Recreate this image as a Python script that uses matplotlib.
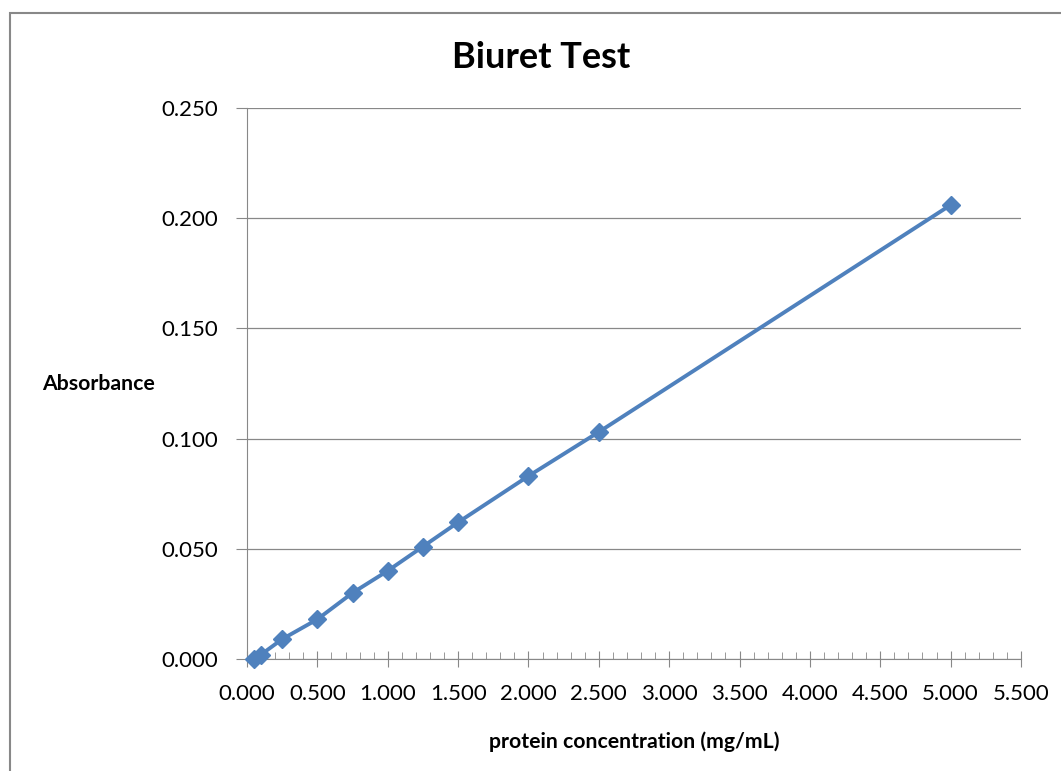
import matplotlib.pyplot as plt
from matplotlib.patches import Rectangle
from matplotlib.ticker import MultipleLocator, FormatStrFormatter

# datos
conc = [0.05, 0.1, 0.25, 0.5, 0.75, 1.0, 1.25, 1.5, 2.0, 2.5, 5.0]
absorb = [0.000, 0.002, 0.009, 0.018, 0.030, 0.040, 0.051, 0.062, 0.083, 0.103, 0.206]

plt.rcParams['font.family'] = ['Lato', 'DejaVu Sans']

fig = plt.figure(figsize=(10.61, 7.71), dpi=100)
ax = fig.add_axes([0.2328, 0.1453, 0.7295, 0.7146])

# marco del grafico
fig.patches.append(Rectangle((10 / 1061, -0.05), 1.2, 1 - 13 / 771 + 0.05,
                             transform=fig.transFigure, fill=False,
                             edgecolor='#888888', linewidth=1.5))

ax.plot(conc, absorb, color='#4F81BD', linewidth=2.8, marker='D',
        markersize=9.5, zorder=3, clip_on=False)

ax.set_xlim(0, 5.5)
ax.set_ylim(0, 0.25)
ax.xaxis.set_major_locator(MultipleLocator(0.5))
ax.xaxis.set_minor_locator(MultipleLocator(0.1))
ax.yaxis.set_major_locator(MultipleLocator(0.05))
ax.xaxis.set_major_formatter(FormatStrFormatter('%.3f'))
ax.yaxis.set_major_formatter(FormatStrFormatter('%.3f'))

ax.grid(axis='y', color='#888888', linewidth=0.9)
ax.set_axisbelow(True)
for s in ['top', 'right']:
    ax.spines[s].set_visible(False)
for s in ['left', 'bottom']:
    ax.spines[s].set_color('#888888')

ax.tick_params(axis='x', which='major', direction='inout', length=12,
               color='#888888', labelsize=16, pad=12)
ax.tick_params(axis='x', which='minor', direction='in', length=5, color='#888888')
ax.tick_params(axis='y', which='major', direction='out', length=8,
               color='#888888', labelsize=16, pad=13)

fig.text(541 / 1061, 1 - 57 / 771, 'Biuret Test', fontsize=26, fontweight='bold',
         ha='center', va='center')
fig.text(634 / 1061, 1 - 742 / 771, 'protein concentration (mg/mL)', fontsize=15.3,
         fontweight='bold', ha='center', va='center')
fig.text(42 / 1061, 1 - 384 / 771, 'Absorbance', fontsize=15.3, fontweight='bold',
         ha='left', va='center')

fig.savefig('out.png', dpi=100)
